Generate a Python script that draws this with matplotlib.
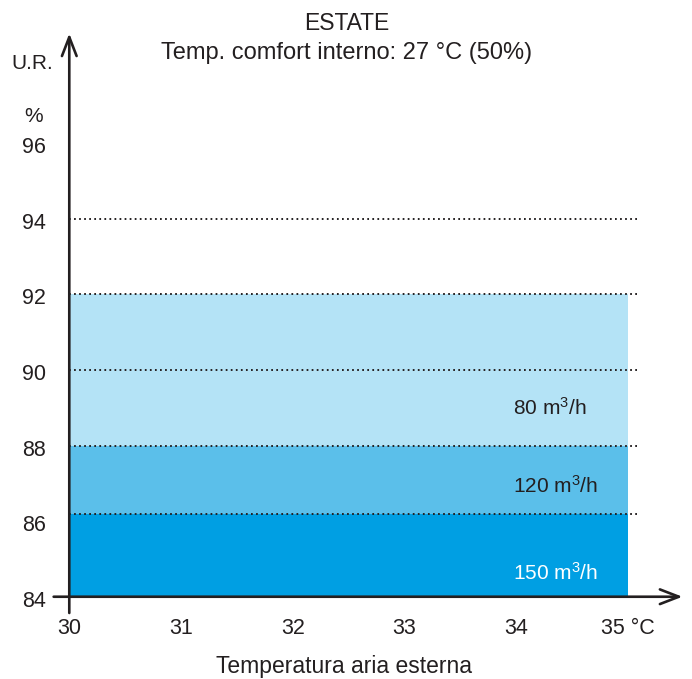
import matplotlib
matplotlib.use("Agg")
import matplotlib.pyplot as plt

plt.rcParams['font.family'] = ['Liberation Sans', 'DejaVu Sans']
plt.rcParams['mathtext.fontset'] = 'custom'
plt.rcParams['mathtext.rm'] = 'Liberation Sans'
plt.rcParams['mathtext.it'] = 'Liberation Sans'
plt.rcParams['mathtext.bf'] = 'Liberation Sans:bold'
plt.rcParams['mathtext.default'] = 'regular'

# ---- data ----
x_range = [30, 35]
band_lower = [84.0, 86.2, 88.0]
band_upper = [86.2, 88.0, 92.0]
band_labels = [r"150 m$^{3}$/h", r"120 m$^{3}$/h", r"80 m$^{3}$/h"]
band_label_y = [84.62, 86.93, 89.0]
band_colors = ["#009FE3", "#5BBFEA", "#B4E3F6"]
band_text_colors = ["white", "#231F20", "#231F20"]
grid_levels = [86.2, 88.0, 90.0, 92.0, 94.0]
y_ticks = [84, 86, 88, 90, 92, 94, 96]
y_tick_labels = ["84", "86", "88", "90", "92", "94", "96"]
x_ticks = [30, 31, 32, 33, 34, 35]
x_tick_labels = ["30", "31", "32", "33", "34", "35 °C"]

TXT = "#231F20"

fig = plt.figure(figsize=(6.92, 6.79), dpi=100)
ax = fig.add_axes([0.03555, 0.08218, 0.9604, 0.8853])
ax.set_xlim(29.6, 35.55)
ax.set_ylim(83.3, 99.2)
ax.axis('off')

# bands
for lo, hi, c in zip(band_lower, band_upper, band_colors):
    ax.fill_between(x_range, [lo, lo], [hi, hi], color=c, lw=0, zorder=1)

# dotted reference lines
for g in grid_levels:
    ax.plot([30, 35.08], [g, g], color=TXT, lw=1.4, linestyle=(0, (0.9, 1.7)), zorder=2)

# band labels
for lab, yy, tc in zip(band_labels, band_label_y, band_text_colors):
    ax.text(33.97, yy, lab, ha='left', va='center', fontsize=15, color=tc, zorder=3)

# axes with arrows
arrow_style = '->,head_length=0.62,head_width=0.24'
ax.annotate('', xy=(30, 98.9), xytext=(30, 83.57),
            arrowprops=dict(arrowstyle=arrow_style, lw=1.9, color=TXT,
                            mutation_scale=22, shrinkA=0, shrinkB=0),
            zorder=4, annotation_clip=False)
ax.annotate('', xy=(35.49, 84), xytext=(29.86, 84),
            arrowprops=dict(arrowstyle=arrow_style, lw=1.9, color=TXT,
                            mutation_scale=22, shrinkA=0, shrinkB=0),
            zorder=4, annotation_clip=False)

# tick labels
for t, lab in zip(y_ticks, y_tick_labels):
    ax.text(29.79, t - 0.12, lab, ha='right', va='center', fontsize=15.5, color=TXT, clip_on=False)
for t, lab in zip(x_ticks, x_tick_labels):
    ax.text(t, 83.17, lab, ha='center', va='center', fontsize=15.5, color=TXT, clip_on=False)

ax.text(29.67, 98.1, "U.R.", ha='center', va='center', fontsize=15, color=TXT)
ax.text(29.68, 96.7, "%", ha='center', va='center', fontsize=15, color=TXT)

fig.text(347 / 692, 1 - 30 / 679, "ESTATE", ha='center', va='baseline', fontsize=16.5, color=TXT)
fig.text(347 / 692, 1 - 59.3 / 679, "Temp. comfort interno: 27 °C (50%)", ha='center',
         va='baseline', fontsize=17, color=TXT)
fig.text(344.5 / 692, 1 - 672.5 / 679, "Temperatura aria esterna", ha='center', va='baseline',
         fontsize=16.5, color=TXT)

fig.savefig("out.png", dpi=100)
